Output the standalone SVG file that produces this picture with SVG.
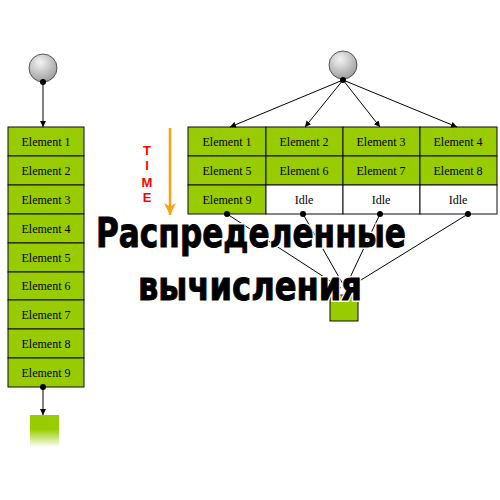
<svg xmlns="http://www.w3.org/2000/svg" width="500" height="500" viewBox="0 0 500 500">
<defs>
<radialGradient id="ball" cx="0.4" cy="0.3" r="0.75">
<stop offset="0" stop-color="#f4f4f4"/>
<stop offset="1" stop-color="#999"/>
</radialGradient>
<linearGradient id="fade" x1="0" y1="0" x2="0" y2="1">
<stop offset="0" stop-color="#99cc00"/>
<stop offset="0.45" stop-color="#99cc00"/>
<stop offset="1" stop-color="#ffffff"/>
</linearGradient>
<marker id="ah" viewBox="0 0 10 10" refX="10" refY="5" markerWidth="6" markerHeight="6" orient="auto" markerUnits="userSpaceOnUse">
<path d="M0,0 L10,5 L0,10 z" fill="#000"/>
</marker>
<marker id="oa" viewBox="0 0 10 10" refX="10" refY="5" markerWidth="12" markerHeight="12" orient="auto" markerUnits="userSpaceOnUse">
<path d="M0,0 L10,5 L0,10 L3,5 z" fill="#f7a116"/>
</marker>
</defs>
<style>
.g{fill:#99cc00;stroke:#0a0a1a;stroke-width:1}
.w{fill:#fff;stroke:#0a0a1a;stroke-width:1}
.t{font-family:"Liberation Serif",serif;font-size:12px;fill:#000;text-anchor:middle}
.c{stroke:#000;stroke-width:1;fill:none}
.dot{fill:#000}
.ball{fill:url(#ball);stroke:#333;stroke-width:0.8}
.time{font-family:"Liberation Sans",sans-serif;font-weight:bold;font-size:13px;fill:#ff0000;text-anchor:middle}
.title{font-family:"DejaVu Sans",sans-serif;font-weight:bold;font-size:41px;fill:#000;stroke:#000;stroke-width:1}
.halo{font-family:"DejaVu Sans",sans-serif;font-weight:bold;font-size:41px;fill:#fff;stroke:#fff;stroke-width:4}
</style>
<rect width="500" height="500" fill="#fff"/>

<g id="left-start"><circle class="ball" cx="43" cy="68" r="14"/></g>
<g id="right-start"><circle class="ball" cx="343" cy="65" r="14"/></g>

<g id="left-column">
<rect class="g" x="8" y="127" width="76" height="29"/><text class="t" x="46" y="146">Element 1</text>
<rect class="g" x="8" y="156" width="76" height="29"/><text class="t" x="46" y="175">Element 2</text>
<rect class="g" x="8" y="185" width="76" height="29"/><text class="t" x="46" y="204">Element 3</text>
<rect class="g" x="8" y="214" width="76" height="29"/><text class="t" x="46" y="233">Element 4</text>
<rect class="g" x="8" y="243" width="76" height="29"/><text class="t" x="46" y="262">Element 5</text>
<rect class="g" x="8" y="272" width="76" height="28"/><text class="t" x="46" y="290">Element 6</text>
<rect class="g" x="8" y="300" width="76" height="29"/><text class="t" x="46" y="319">Element 7</text>
<rect class="g" x="8" y="329" width="76" height="29"/><text class="t" x="46" y="348">Element 8</text>
<rect class="g" x="8" y="358" width="76" height="29"/><text class="t" x="46" y="377">Element 9</text>
</g>

<g id="left-end"><rect x="30" y="415" width="29" height="32" fill="url(#fade)"/></g>

<g id="grid">
<rect class="g" x="188" y="127" width="78" height="29"/><text class="t" x="227" y="146">Element 1</text>
<rect class="g" x="266" y="127" width="77" height="29"/><text class="t" x="304" y="146">Element 2</text>
<rect class="g" x="343" y="127" width="77" height="29"/><text class="t" x="381" y="146">Element 3</text>
<rect class="g" x="420" y="127" width="77" height="29"/><text class="t" x="458" y="146">Element 4</text>
<rect class="g" x="188" y="156" width="78" height="29"/><text class="t" x="227" y="175">Element 5</text>
<rect class="g" x="266" y="156" width="77" height="29"/><text class="t" x="304" y="175">Element 6</text>
<rect class="g" x="343" y="156" width="77" height="29"/><text class="t" x="381" y="175">Element 7</text>
<rect class="g" x="420" y="156" width="77" height="29"/><text class="t" x="458" y="175">Element 8</text>
<rect class="g" x="188" y="185" width="78" height="29"/><text class="t" x="227" y="204">Element 9</text>
<rect class="w" x="266" y="185" width="77" height="29"/><text class="t" x="304" y="204">Idle</text>
<rect class="w" x="343" y="185" width="77" height="29"/><text class="t" x="381" y="204">Idle</text>
<rect class="w" x="420" y="185" width="77" height="29"/><text class="t" x="458" y="204">Idle</text>
</g>

<g id="right-end"><rect x="330" y="295" width="28" height="26" fill="#99cc00" stroke="#0a0a1a" stroke-width="1"/></g>

<g id="connectors">
<line class="c" x1="43" y1="82" x2="43" y2="127" marker-end="url(#ah)"/>
<circle class="dot" cx="43" cy="82" r="3"/>
<line class="c" x1="43" y1="387" x2="43" y2="415" marker-end="url(#ah)"/>
<circle class="dot" cx="43" cy="387" r="3"/>
<line class="c" x1="343" y1="80" x2="230" y2="127" marker-end="url(#ah)"/>
<line class="c" x1="343" y1="80" x2="305" y2="127" marker-end="url(#ah)"/>
<line class="c" x1="343" y1="80" x2="380" y2="127" marker-end="url(#ah)"/>
<line class="c" x1="343" y1="80" x2="457" y2="127" marker-end="url(#ah)"/>
<circle class="dot" cx="343" cy="80" r="3"/>
<line class="c" x1="227" y1="214" x2="341" y2="288"/>
<line class="c" x1="303" y1="214" x2="344" y2="286"/>
<line class="c" x1="380" y1="214" x2="346" y2="286"/>
<line class="c" x1="468" y1="214" x2="348" y2="288"/>
<circle class="dot" cx="227" cy="214" r="3"/>
<circle class="dot" cx="303" cy="214" r="3"/>
<circle class="dot" cx="380" cy="214" r="3"/>
<circle class="dot" cx="468" cy="214" r="3"/>
<line x1="170" y1="128" x2="170" y2="215" stroke="#f7a116" stroke-width="2.5" marker-end="url(#oa)"/>
</g>

<g id="time-label">
<text class="time" x="147" y="155">T</text>
<text class="time" x="147" y="170">I</text>
<text class="time" x="147" y="187">M</text>
<text class="time" x="147" y="202">E</text>
</g>

<g id="title">
<text class="halo" x="96" y="247" textLength="310" lengthAdjust="spacingAndGlyphs">Распределенные</text>
<text class="halo" x="138" y="300" textLength="224" lengthAdjust="spacingAndGlyphs">вычисления</text>
<text class="title" x="96" y="247" textLength="310" lengthAdjust="spacingAndGlyphs">Распределенные</text>
<text class="title" x="138" y="300" textLength="224" lengthAdjust="spacingAndGlyphs">вычисления</text>
</g>
</svg>
